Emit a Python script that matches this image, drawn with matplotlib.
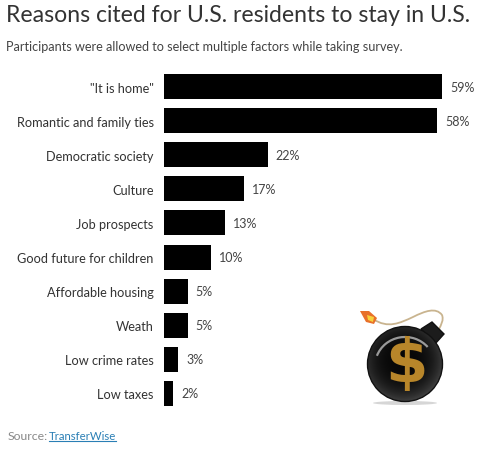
"""Reasons cited for U.S. residents to stay in U.S. -- horizontal bar chart."""

import matplotlib
matplotlib.use("Agg")
import matplotlib.pyplot as plt
import numpy as np
from matplotlib.patches import Arc, Circle, Ellipse, PathPatch, Polygon
from matplotlib.path import Path

W, H = 488, 456

reasons = [
    '"It is home"',
    "Romantic and family ties",
    "Democratic society",
    "Culture",
    "Job prospects",
    "Good future for children",
    "Affordable housing",
    "Weath",
    "Low crime rates",
    "Low taxes",
]
shares = [59, 58, 22, 17, 13, 10, 5, 5, 3, 2]

TITLE = "Reasons cited for U.S. residents to stay in U.S."
SUBTITLE = "Participants were allowed to select multiple factors while taking survey."

plt.rcParams["font.family"] = ["Lato", "DejaVu Sans"]

fig = plt.figure(figsize=(W / 100, H / 100), dpi=100, facecolor="white")

# bar axes, placed in pixels: 4.71 px per percent from x=164
top, bottom = 70.5, 411.5
ax = fig.add_axes([164 / W, 1 - bottom / H, (W - 164) / W, (bottom - top) / H])
ax.barh(range(len(shares)), shares, height=0.735, color="#000000")
ax.set_xlim(0, (W - 164) / 4.71)
ax.set_ylim(len(shares) - 0.5, -0.5)
ax.set_yticks(range(len(reasons)), reasons)
ax.tick_params(axis="y", length=0, pad=7.4, labelsize=9.2, labelcolor="#333333")
ax.set_xticks([])
for s in ax.spines.values():
    s.set_visible(False)
ax.patch.set_alpha(0)
for i, v in enumerate(shares):
    ax.annotate(f"{v}%", (v, i), xytext=(8, 0), textcoords="offset pixels",
                va="center", ha="left", fontsize=9.0, color="#444444")

# overlay in pixel coordinates for headings, source and the bomb
ov = fig.add_axes([0, 0, 1, 1], zorder=3)
ov.set_xlim(0, W)
ov.set_ylim(H, 0)
ov.axis("off")

ov.text(6, 16, TITLE, fontsize=16.6, color="#333333", va="center", ha="left")
ov.text(6, 47, SUBTITLE, fontsize=9.1, color="#444444", va="center", ha="left")
ov.text(8, 437, "Source:", fontsize=8.8, color="#888888", va="center", ha="left")
ov.text(49, 437, "TransferWise", fontsize=8.2, color="#2a7fb5", va="center", ha="left")
ov.plot([49, 116], [442.5, 442.5], color="#2a7fb5", lw=0.8)

# bomb: fuse, neck, shaded body, dollar sign, flame
fuse = Path([(373, 320), (388, 330), (400, 324), (413, 318), (425, 312), (436, 308), (442, 316), (444, 321), (441, 326), (439, 330)],
            [Path.MOVETO] + [Path.CURVE4] * 9)
ov.add_patch(PathPatch(fuse, fc="none", ec="#c9b48f", lw=1.3))
ov.add_patch(Polygon([(421, 330), (432, 323), (444, 335), (435, 345)], fc="#1c1c1c", ec="#111111"))
ov.add_patch(Polygon([(360, 312), (369, 312), (377, 319), (374, 325), (366, 323)], fc="#e8702a", ec="none"))
ov.add_patch(Polygon([(367, 316), (374, 318), (373, 323), (368, 321)], fc="#f7d23c", ec="none"))
ov.add_patch(Ellipse((405, 404), 64, 4, fc="#bbbbbb", ec="none", alpha=0.6))

yy, xx = np.mgrid[-1:1:160j, -1:1:160j]
shade = np.clip(np.hypot(xx + 0.05, yy + 0.1) / 1.2, 0, 1)
img = ov.imshow(0.03 + 0.32 * shade ** 3, cmap="gray", vmin=0, vmax=1,
                extent=(366, 444, 404, 326), zorder=2, aspect="auto")
img.set_clip_path(Circle((405, 365), 37.5, transform=ov.transData))
ov.add_patch(Circle((405, 365), 37.5, fc="none", ec="#111111", lw=1.0, zorder=3))
ov.add_patch(Arc((405, 367), 60, 58, theta1=200, theta2=320, ec="#9a9a9a", lw=1.6, zorder=3))
ov.text(406, 366, "$", fontsize=44, fontweight="bold", family="DejaVu Sans", color="#b8862a",
        ha="center", va="center", zorder=4)
ov.set_xlim(0, W)
ov.set_ylim(H, 0)

fig.savefig("out.png", dpi=100)
plt.close()
